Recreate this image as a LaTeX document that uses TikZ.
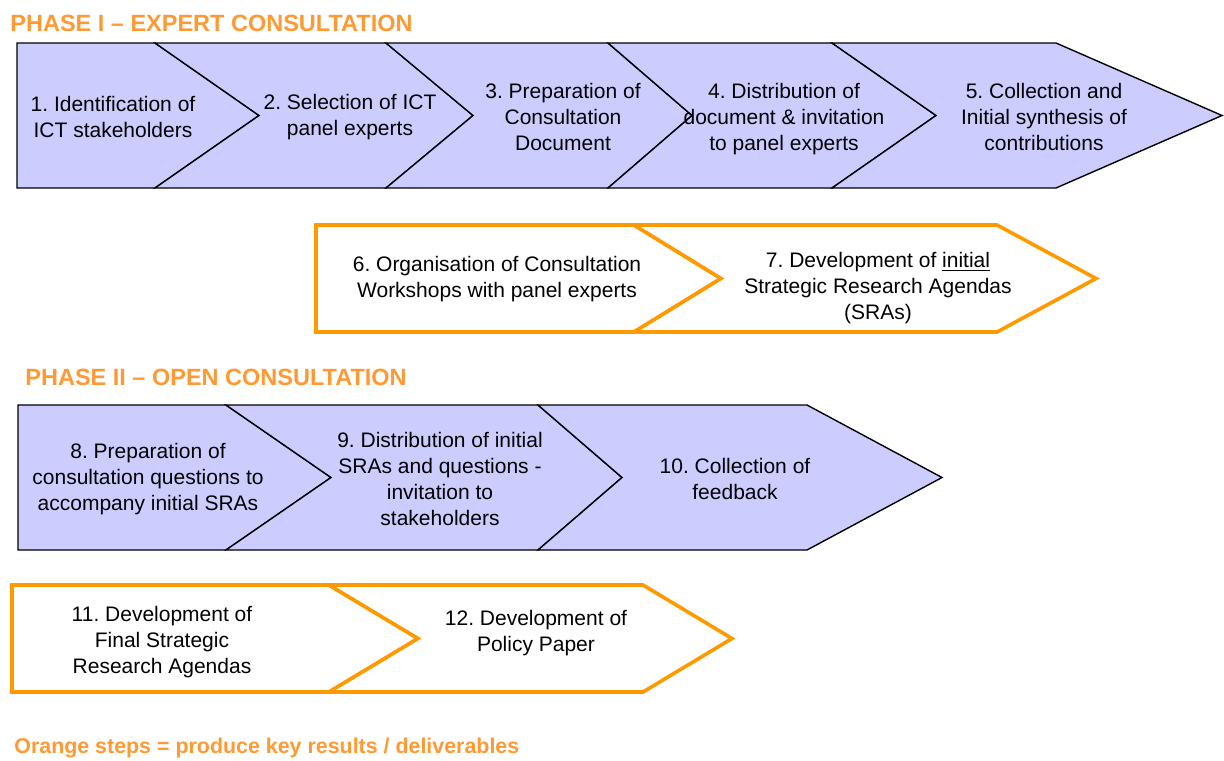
\documentclass[tikz,border=0pt]{standalone}
\usepackage{fontspec}
\setmainfont{Liberation Sans}
\usepackage{tikz}
\usetikzlibrary{positioning}
\frenchspacing

\definecolor{phaseorange}{HTML}{FF9933}
\definecolor{keyorange}{HTML}{FF9900}
\definecolor{steplilac}{HTML}{CCCCFF}

\begin{document}
\begin{tikzpicture}[x=0.5pt,y=0.5pt]
\tikzstyle{every node}+=[inner sep=0pt]
\tikzstyle{plainstep}=[draw=black, fill=steplilac, line width=0.7pt, line join=miter]
\tikzstyle{keystep}=[draw=keyorange, fill=white, line width=1.8pt, line join=miter]
\tikzstyle{steptext}=[align=center, font=\fontsize{10.5}{13}\selectfont]
\tikzstyle{phasetitle}=[anchor=west, text=phaseorange, font=\fontsize{11.75}{14}\selectfont\bfseries]
\useasboundingbox (0,0) rectangle (1224,-760);
% phase I
\node [phasetitle] (phase1) at (10,-23) {PHASE I – EXPERT CONSULTATION};
\draw [plainstep] (17,-43) -- (155,-43) -- (259,-115.5) -- (155,-188) -- (17,-188) -- cycle;
\draw [plainstep] (155,-43) -- (386,-43) -- (473,-115.5) -- (386,-188) -- (155,-188) -- (259,-115.5) -- cycle;
\draw [plainstep] (386,-43) -- (608,-43) -- (692,-115.5) -- (608,-188) -- (386,-188) -- (473,-115.5) -- cycle;
\draw [plainstep] (608,-43) -- (832,-43) -- (936,-115.5) -- (832,-188) -- (608,-188) -- (692,-115.5) -- cycle;
\draw [plainstep] (832,-43) -- (1056,-43) -- (1222,-115.5) -- (1056,-188) -- (832,-188) -- (936,-115.5) -- cycle;
\node [steptext] (s1) at (113,-117) {1. Identification of\\ICT stakeholders};
\node [steptext] (s2) at (350,-117) {2. Selection of ICT\\panel experts};
\node [steptext] (s3) at (563,-117) {3. Preparation of\\Consultation\\Document};
\node [steptext] (s4) at (784,-119.5) {4. Distribution of\\document \& invitation\\to panel experts};
\node [steptext] (s5) at (1044,-117) {5. Collection and\\Initial synthesis of\\contributions};
\draw [keystep] (316,-225) -- (634,-225) -- (721,-278.5) -- (634,-332) -- (316,-332) -- cycle;
\draw [keystep] (634,-225) -- (997,-225) -- (1096,-278.5) -- (997,-332) -- (634,-332) -- (721,-278.5) -- cycle;
\node [steptext] (s6) at (497,-279) {6. Organisation of Consultation\\Workshops with panel experts};
\node [steptext] (s7) at (878,-288) {7. Development of \underline{initial}\\Strategic Research Agendas\\(SRAs)};
% phase II
\node [phasetitle] (phase2) at (25,-377) {PHASE II – OPEN CONSULTATION};
\draw [plainstep] (18,-405) -- (226,-405) -- (331,-477.5) -- (226,-550) -- (18,-550) -- cycle;
\draw [plainstep] (226,-405) -- (538,-405) -- (622,-477.5) -- (538,-550) -- (226,-550) -- (331,-477.5) -- cycle;
\draw [plainstep] (538,-405) -- (807,-405) -- (942,-477.5) -- (807,-550) -- (538,-550) -- (622,-477.5) -- cycle;
\node [steptext] (s8) at (148,-479.5) {8. Preparation of\\consultation questions to\\accompany initial SRAs};
\node [steptext] (s9) at (440,-479) {9. Distribution of initial\\SRAs and questions -\\invitation to\\stakeholders};
\node [steptext] (s10) at (735,-479) {10. Collection of\\feedback};
\draw [keystep] (12,-585) -- (329,-585) -- (418,-638.5) -- (329,-692) -- (12,-692) -- cycle;
\draw [keystep] (329,-585) -- (643,-585) -- (732,-638.5) -- (643,-692) -- (329,-692) -- (418,-638.5) -- cycle;
\node [steptext] (s11) at (162,-642.5) {11. Development of\\Final Strategic\\Research Agendas};
\node [steptext] (s12) at (536,-633) {12. Development of\\Policy Paper};
% key
\node [phasetitle, font=\fontsize{10.7}{13}\selectfont\bfseries] (legend) at (14,-748) {Orange steps = produce key results / deliverables};
\end{tikzpicture}
\end{document}
